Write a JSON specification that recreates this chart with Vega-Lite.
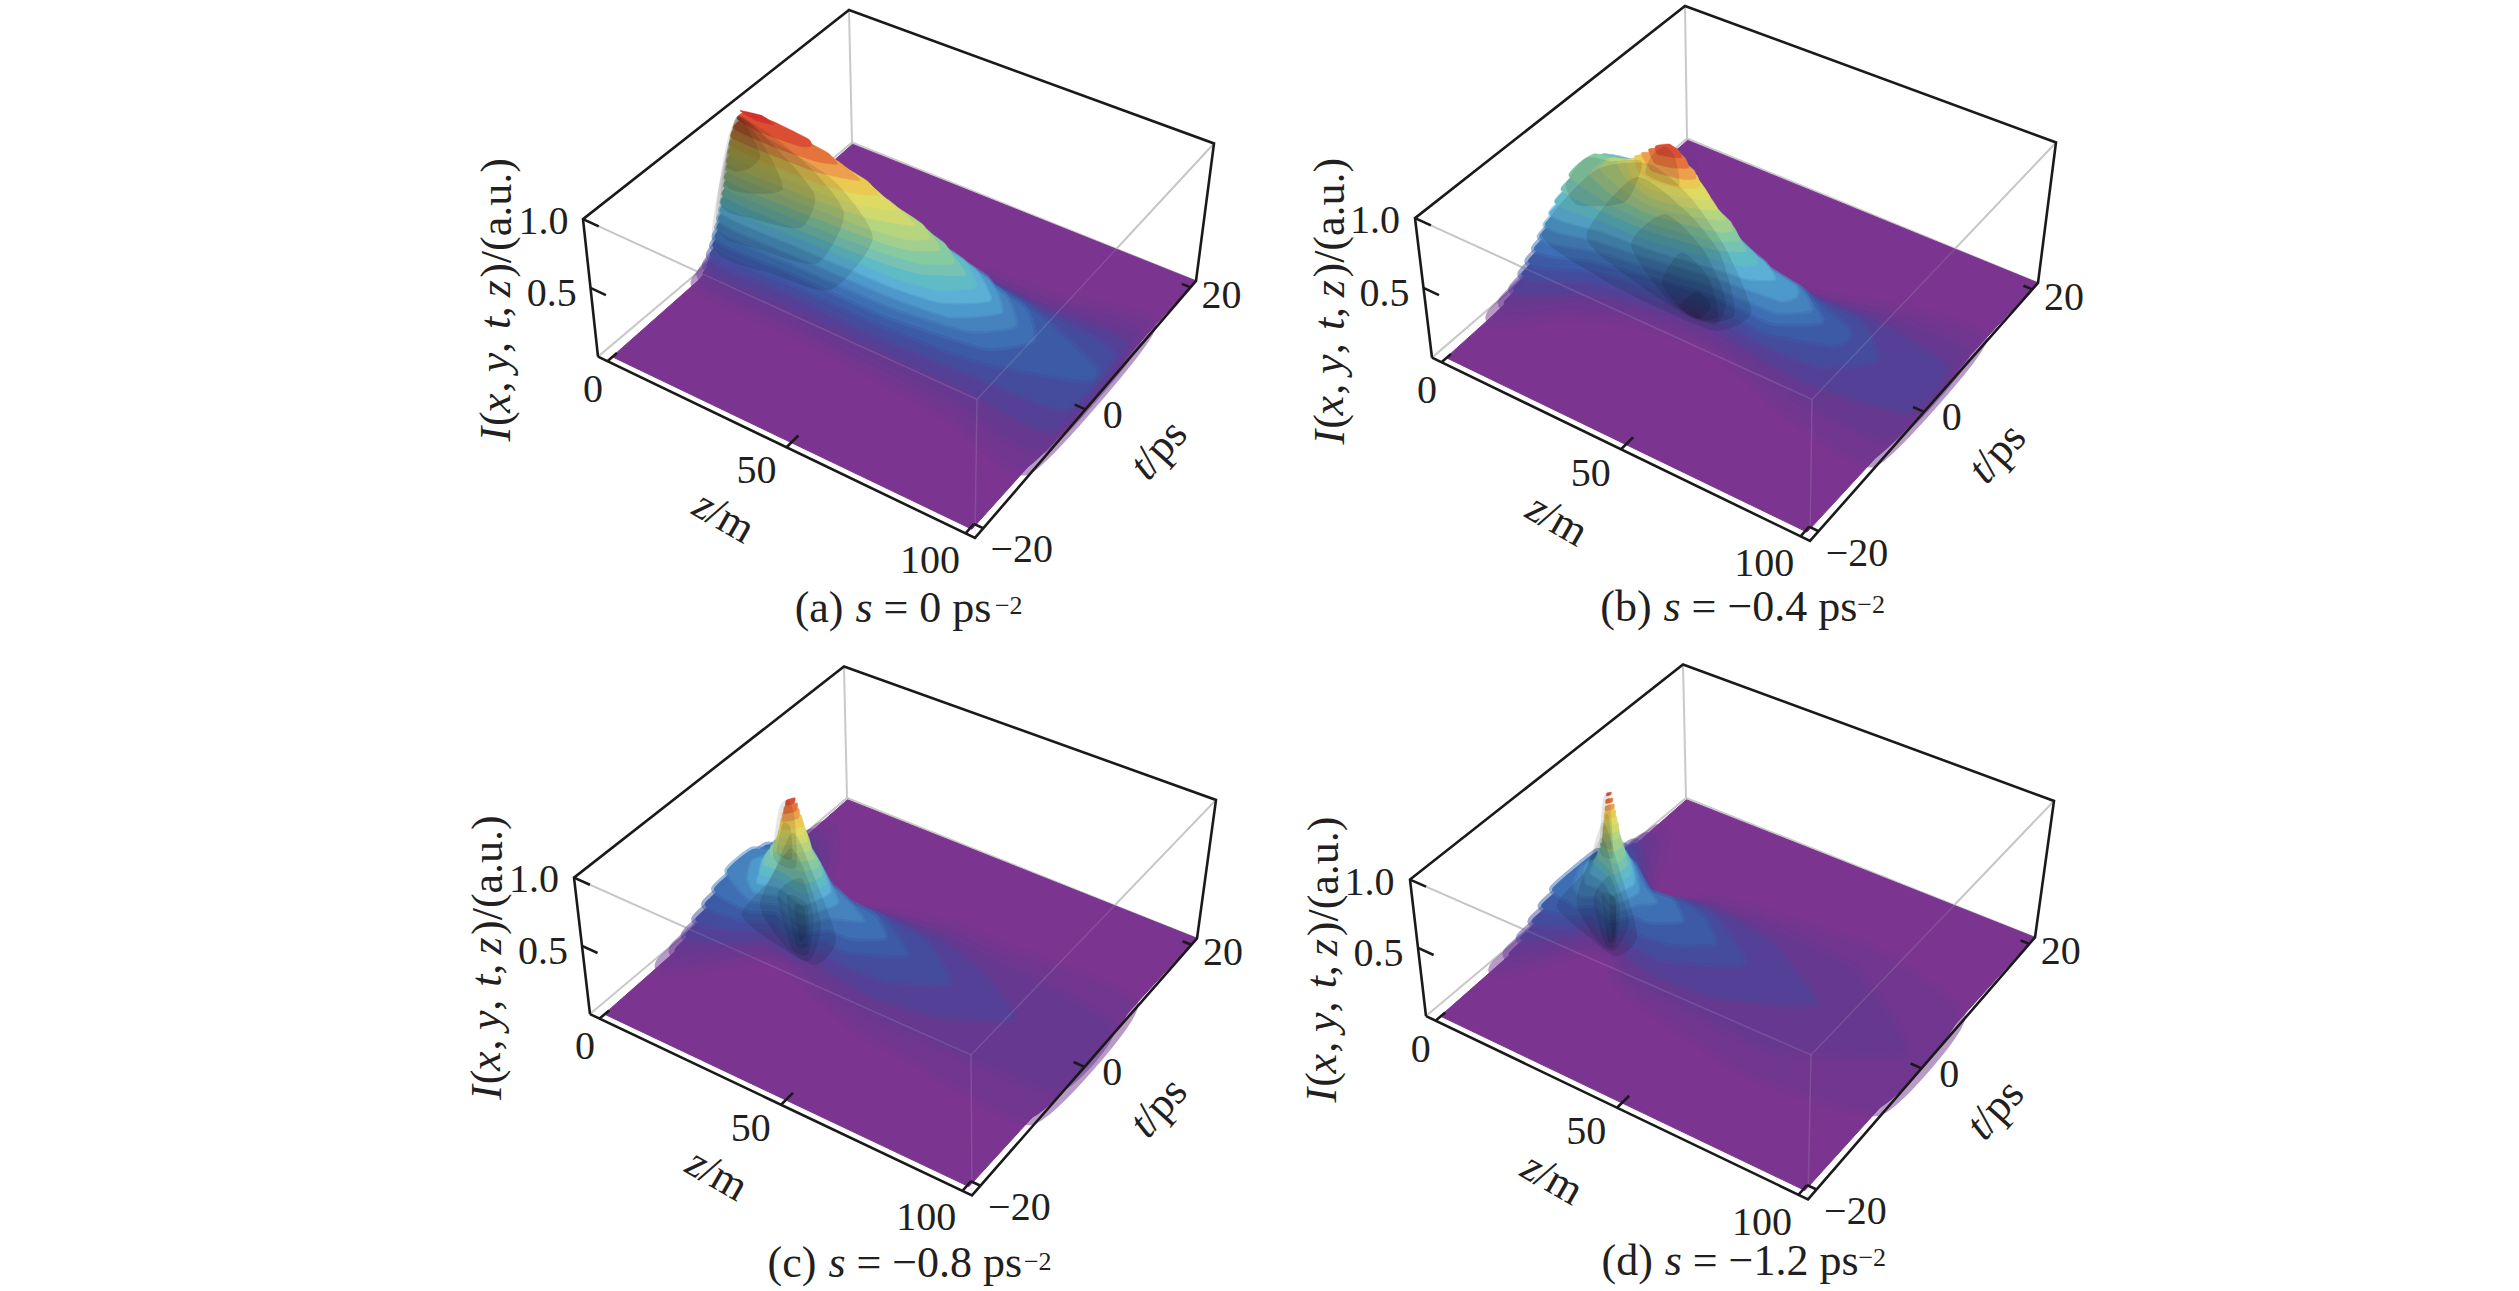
{"$schema":"https://vega.github.io/schema/vega-lite/v6.json","width":2519,"height":1291,"autosize":{"type":"fit","contains":"padding"},"padding":0,"background":"white","config":{"view":{"stroke":null}},
"params":[{"name":"box","value":{"a":[598,353,975,535,1196,277,852,138,583,215,977,396,1214,139,849,5],"b":[1432,354,1810,538,2038,279,1687,134,1415,214,1812,396,2056,138,1685,1],"c":[590,1013,972,1195,1197,937,847,796,574,876,971,1054,1216,798,844,664],"d":[1426,1015,1808,1199,2035,936,1686,796,1410,878,1811,1054,2054,799,1683,662]}}],
"data":{"values":[
{"p":"abcd","k":"g","c":1,"z":0,"t":20,"i":1},{"p":"abcd","k":"g","c":1,"z":0,"t":20,"i":0},
{"p":"abcd","k":"g","c":2,"z":0,"t":-20,"i":1},{"p":"abcd","k":"g","c":2,"z":100,"t":-20,"i":1},{"p":"abcd","k":"g","c":2,"z":100,"t":20,"i":1},
{"p":"abcd","k":"g","c":3,"z":0,"t":-20,"i":0},{"p":"abcd","k":"g","c":3,"z":0,"t":20,"i":0},{"p":"abcd","k":"g","c":3,"z":100,"t":20,"i":0},
{"p":"abcd","k":"f","z":2.4,"t":-19.2},{"p":"abcd","k":"f","z":0.5,"t":19.8},{"p":"abcd","k":"f","z":99.8,"t":20},{"p":"abcd","k":"f","z":98,"t":-19.2},
{"p":"a","z":3,"t":-6,"i":0.03},{"p":"a","z":25,"t":-6.4,"i":0.03},{"p":"a","z":50,"t":-7,"i":0.03},{"p":"a","z":75,"t":-8.1,"i":0.03},{"p":"a","z":99,"t":-10,"i":0.03},{"p":"a","z":99,"t":12,"i":0.03},{"p":"a","z":75,"t":10.6,"i":0.03},{"p":"a","z":50,"t":10,"i":0.03},{"p":"a","z":25,"t":10,"i":0.03},{"p":"a","z":3,"t":10,"i":0.03},
{"p":"a","z":3,"t":-5.2,"i":0.06},{"p":"a","z":25,"t":-5.5,"i":0.06},{"p":"a","z":50,"t":-6,"i":0.06},{"p":"a","z":75,"t":-6.6,"i":0.06},{"p":"a","z":99,"t":-7.8,"i":0.06},{"p":"a","z":99,"t":9.8,"i":0.06},{"p":"a","z":75,"t":9.1,"i":0.06},{"p":"a","z":50,"t":9,"i":0.06},{"p":"a","z":25,"t":9,"i":0.06},{"p":"a","z":3,"t":9.2,"i":0.06},
{"p":"a","z":3,"t":-4.5,"i":0.1},{"p":"a","z":25,"t":-4.8,"i":0.1},{"p":"a","z":50,"t":-5.2,"i":0.1},{"p":"a","z":75,"t":-5.3,"i":0.1},{"p":"a","z":99,"t":-5.7,"i":0.1},{"p":"a","z":99,"t":7.7,"i":0.1},{"p":"a","z":75,"t":7.8,"i":0.1},{"p":"a","z":50,"t":8.2,"i":0.1},{"p":"a","z":25,"t":8.3,"i":0.1},{"p":"a","z":3,"t":8.5,"i":0.1},
{"p":"a","z":3,"t":-3.9,"i":0.15},{"p":"a","z":25,"t":-4.1,"i":0.15},{"p":"a","z":50,"t":-4.5,"i":0.15},{"p":"a","z":75,"t":-4.1,"i":0.15},{"p":"a","z":99,"t":-3.3,"i":0.15},{"p":"a","z":99,"t":5.3,"i":0.15},{"p":"a","z":75,"t":6.6,"i":0.15},{"p":"a","z":50,"t":7.5,"i":0.15},{"p":"a","z":25,"t":7.7,"i":0.15},{"p":"a","z":3,"t":7.9,"i":0.15},
{"p":"a","z":3,"t":-3.4,"i":0.2},{"p":"a","z":25,"t":-3.7,"i":0.2},{"p":"a","z":50,"t":-3.9,"i":0.2},{"p":"a","z":75,"t":-3.1,"i":0.2},{"p":"a","z":99,"t":0,"i":0.2},{"p":"a","z":99,"t":2,"i":0.2},{"p":"a","z":75,"t":5.6,"i":0.2},{"p":"a","z":50,"t":6.9,"i":0.2},{"p":"a","z":25,"t":7.2,"i":0.2},{"p":"a","z":3,"t":7.4,"i":0.2},
{"p":"a","z":3,"t":-3,"i":0.25},{"p":"a","z":25,"t":-3.2,"i":0.25},{"p":"a","z":50,"t":-3.4,"i":0.25},{"p":"a","z":75,"t":-2,"i":0.25},{"p":"a","z":83,"t":1.2,"i":0.25},{"p":"a","z":75,"t":4.6,"i":0.25},{"p":"a","z":50,"t":6.4,"i":0.25},{"p":"a","z":25,"t":6.8,"i":0.25},{"p":"a","z":3,"t":7,"i":0.25},
{"p":"a","z":3,"t":-2.6,"i":0.3},{"p":"a","z":25,"t":-2.9,"i":0.3},{"p":"a","z":50,"t":-2.9,"i":0.3},{"p":"a","z":70,"t":-1.7,"i":0.3},{"p":"a","z":78,"t":1.2,"i":0.3},{"p":"a","z":70,"t":4.3,"i":0.3},{"p":"a","z":50,"t":5.9,"i":0.3},{"p":"a","z":25,"t":6.4,"i":0.3},{"p":"a","z":3,"t":6.6,"i":0.3},
{"p":"a","z":3,"t":-2.3,"i":0.35},{"p":"a","z":25,"t":-2.6,"i":0.35},{"p":"a","z":50,"t":-2.5,"i":0.35},{"p":"a","z":65,"t":-1.8,"i":0.35},{"p":"a","z":74,"t":1.3,"i":0.35},{"p":"a","z":65,"t":4.6,"i":0.35},{"p":"a","z":50,"t":5.5,"i":0.35},{"p":"a","z":25,"t":6.1,"i":0.35},{"p":"a","z":3,"t":6.3,"i":0.35},
{"p":"a","z":3,"t":-2,"i":0.4},{"p":"a","z":25,"t":-2.2,"i":0.4},{"p":"a","z":50,"t":-2.1,"i":0.4},{"p":"a","z":62,"t":-1.4,"i":0.4},{"p":"a","z":71,"t":1.3,"i":0.4},{"p":"a","z":62,"t":4.2,"i":0.4},{"p":"a","z":50,"t":5.1,"i":0.4},{"p":"a","z":25,"t":5.7,"i":0.4},{"p":"a","z":3,"t":6,"i":0.4},
{"p":"a","z":3,"t":-1.8,"i":0.45},{"p":"a","z":25,"t":-1.9,"i":0.45},{"p":"a","z":50,"t":-1.7,"i":0.45},{"p":"a","z":60,"t":-1,"i":0.45},{"p":"a","z":67,"t":1.3,"i":0.45},{"p":"a","z":60,"t":3.8,"i":0.45},{"p":"a","z":50,"t":4.7,"i":0.45},{"p":"a","z":25,"t":5.4,"i":0.45},{"p":"a","z":3,"t":5.8,"i":0.45},
{"p":"a","z":3,"t":-1.5,"i":0.5},{"p":"a","z":25,"t":-1.7,"i":0.5},{"p":"a","z":45,"t":-1.4,"i":0.5},{"p":"a","z":55,"t":-0.8,"i":0.5},{"p":"a","z":64,"t":1.4,"i":0.5},{"p":"a","z":55,"t":3.7,"i":0.5},{"p":"a","z":45,"t":4.5,"i":0.5},{"p":"a","z":25,"t":5.2,"i":0.5},{"p":"a","z":3,"t":5.5,"i":0.5},
{"p":"a","z":3,"t":-1.2,"i":0.55},{"p":"a","z":25,"t":-1.4,"i":0.55},{"p":"a","z":45,"t":-1,"i":0.55},{"p":"a","z":55,"t":-0.3,"i":0.55},{"p":"a","z":61,"t":1.4,"i":0.55},{"p":"a","z":55,"t":3.3,"i":0.55},{"p":"a","z":45,"t":4.2,"i":0.55},{"p":"a","z":25,"t":4.9,"i":0.55},{"p":"a","z":3,"t":5.2,"i":0.55},
{"p":"a","z":3,"t":-1,"i":0.6},{"p":"a","z":25,"t":-1.1,"i":0.6},{"p":"a","z":45,"t":-0.6,"i":0.6},{"p":"a","z":52,"t":0,"i":0.6},{"p":"a","z":57,"t":1.4,"i":0.6},{"p":"a","z":52,"t":3,"i":0.6},{"p":"a","z":45,"t":3.8,"i":0.6},{"p":"a","z":25,"t":4.7,"i":0.6},{"p":"a","z":3,"t":5,"i":0.6},
{"p":"a","z":3,"t":-0.7,"i":0.65},{"p":"a","z":25,"t":-0.8,"i":0.65},{"p":"a","z":40,"t":-0.5,"i":0.65},{"p":"a","z":50,"t":0.2,"i":0.65},{"p":"a","z":54,"t":1.4,"i":0.65},{"p":"a","z":50,"t":2.8,"i":0.65},{"p":"a","z":40,"t":3.7,"i":0.65},{"p":"a","z":25,"t":4.4,"i":0.65},{"p":"a","z":3,"t":4.7,"i":0.65},
{"p":"a","z":3,"t":-0.5,"i":0.7},{"p":"a","z":25,"t":-0.5,"i":0.7},{"p":"a","z":40,"t":0,"i":0.7},{"p":"a","z":50,"t":1.5,"i":0.7},{"p":"a","z":40,"t":3.2,"i":0.7},{"p":"a","z":25,"t":4.1,"i":0.7},{"p":"a","z":3,"t":4.5,"i":0.7},
{"p":"a","z":3,"t":-0.2,"i":0.75},{"p":"a","z":25,"t":-0.2,"i":0.75},{"p":"a","z":35,"t":0.1,"i":0.75},{"p":"a","z":45,"t":1.5,"i":0.75},{"p":"a","z":35,"t":3.3,"i":0.75},{"p":"a","z":25,"t":3.8,"i":0.75},{"p":"a","z":3,"t":4.2,"i":0.75},
{"p":"a","z":3,"t":0.1,"i":0.8},{"p":"a","z":25,"t":0,"i":0.8},{"p":"a","z":35,"t":0.6,"i":0.8},{"p":"a","z":40,"t":1.6,"i":0.8},{"p":"a","z":35,"t":2.8,"i":0.8},{"p":"a","z":25,"t":3.5,"i":0.8},{"p":"a","z":3,"t":3.9,"i":0.8},
{"p":"a","z":3,"t":0.4,"i":0.85},{"p":"a","z":25,"t":0.5,"i":0.85},{"p":"a","z":35,"t":1.7,"i":0.85},{"p":"a","z":25,"t":3.1,"i":0.85},{"p":"a","z":3,"t":3.6,"i":0.85},
{"p":"a","z":3,"t":0.8,"i":0.9},{"p":"a","z":15,"t":0.6,"i":0.9},{"p":"a","z":25,"t":1,"i":0.9},{"p":"a","z":29,"t":1.7,"i":0.9},{"p":"a","z":25,"t":2.6,"i":0.9},{"p":"a","z":15,"t":3.1,"i":0.9},{"p":"a","z":3,"t":3.2,"i":0.9},
{"p":"a","z":3,"t":1.4,"i":0.95},{"p":"a","z":10,"t":0.9,"i":0.95},{"p":"a","z":20,"t":1.2,"i":0.95},{"p":"a","z":22,"t":1.8,"i":0.95},{"p":"a","z":20,"t":2.5,"i":0.95},{"p":"a","z":10,"t":2.9,"i":0.95},{"p":"a","z":3,"t":2.6,"i":0.95},
{"p":"a","z":3,"t":1.9,"i":0.99},{"p":"a","z":8,"t":1.5,"i":0.99},{"p":"a","z":12,"t":1.9,"i":0.99},{"p":"a","z":8,"t":2.4,"i":0.99},
{"p":"b","z":3,"t":-12.1,"i":0.03},{"p":"b","z":16,"t":-7.7,"i":0.03},{"p":"b","z":26,"t":-5.5,"i":0.03},{"p":"b","z":33,"t":-4.7,"i":0.03},{"p":"b","z":43,"t":-3.9,"i":0.03},{"p":"b","z":52,"t":-4.4,"i":0.03},{"p":"b","z":61,"t":-5.4,"i":0.03},{"p":"b","z":75,"t":-7.4,"i":0.03},{"p":"b","z":99,"t":-8.4,"i":0.03},{"p":"b","z":99,"t":10.4,"i":0.03},{"p":"b","z":75,"t":9.4,"i":0.03},{"p":"b","z":61,"t":7.4,"i":0.03},{"p":"b","z":52,"t":6.8,"i":0.03},{"p":"b","z":43,"t":6.9,"i":0.03},{"p":"b","z":33,"t":8.3,"i":0.03},{"p":"b","z":26,"t":9.5,"i":0.03},{"p":"b","z":16,"t":12.1,"i":0.03},{"p":"b","z":3,"t":17,"i":0.03},
{"p":"b","z":3,"t":-10.3,"i":0.06},{"p":"b","z":16,"t":-6.5,"i":0.06},{"p":"b","z":26,"t":-4.7,"i":0.06},{"p":"b","z":33,"t":-4,"i":0.06},{"p":"b","z":43,"t":-3.3,"i":0.06},{"p":"b","z":52,"t":-3.7,"i":0.06},{"p":"b","z":61,"t":-4.4,"i":0.06},{"p":"b","z":75,"t":-5.7,"i":0.06},{"p":"b","z":99,"t":-5.6,"i":0.06},{"p":"b","z":99,"t":7.6,"i":0.06},{"p":"b","z":75,"t":7.7,"i":0.06},{"p":"b","z":61,"t":6.4,"i":0.06},{"p":"b","z":52,"t":6.1,"i":0.06},{"p":"b","z":43,"t":6.3,"i":0.06},{"p":"b","z":33,"t":7.6,"i":0.06},{"p":"b","z":26,"t":8.7,"i":0.06},{"p":"b","z":16,"t":10.9,"i":0.06},{"p":"b","z":3,"t":15.3,"i":0.06},
{"p":"b","z":3,"t":-8.8,"i":0.1},{"p":"b","z":16,"t":-5.6,"i":0.1},{"p":"b","z":26,"t":-4.1,"i":0.1},{"p":"b","z":33,"t":-3.4,"i":0.1},{"p":"b","z":43,"t":-2.7,"i":0.1},{"p":"b","z":52,"t":-3,"i":0.1},{"p":"b","z":61,"t":-3.6,"i":0.1},{"p":"b","z":75,"t":-4.2,"i":0.1},{"p":"b","z":99,"t":-2.4,"i":0.1},{"p":"b","z":99,"t":4.4,"i":0.1},{"p":"b","z":75,"t":6.2,"i":0.1},{"p":"b","z":61,"t":5.6,"i":0.1},{"p":"b","z":52,"t":5.4,"i":0.1},{"p":"b","z":43,"t":5.7,"i":0.1},{"p":"b","z":33,"t":7,"i":0.1},{"p":"b","z":26,"t":8.1,"i":0.1},{"p":"b","z":16,"t":10,"i":0.1},{"p":"b","z":3,"t":13.8,"i":0.1},
{"p":"b","z":3,"t":-7.4,"i":0.15},{"p":"b","z":16,"t":-4.8,"i":0.15},{"p":"b","z":26,"t":-3.5,"i":0.15},{"p":"b","z":33,"t":-2.9,"i":0.15},{"p":"b","z":43,"t":-2.3,"i":0.15},{"p":"b","z":52,"t":-2.4,"i":0.15},{"p":"b","z":61,"t":-2.8,"i":0.15},{"p":"b","z":75,"t":-2.5,"i":0.15},{"p":"b","z":85,"t":1,"i":0.15},{"p":"b","z":75,"t":4.5,"i":0.15},{"p":"b","z":61,"t":4.8,"i":0.15},{"p":"b","z":52,"t":4.8,"i":0.15},{"p":"b","z":43,"t":5.3,"i":0.15},{"p":"b","z":33,"t":6.5,"i":0.15},{"p":"b","z":26,"t":7.5,"i":0.15},{"p":"b","z":16,"t":9.2,"i":0.15},{"p":"b","z":3,"t":12.4,"i":0.15},
{"p":"b","z":3,"t":-6.3,"i":0.2},{"p":"b","z":16,"t":-4.1,"i":0.2},{"p":"b","z":26,"t":-3.1,"i":0.2},{"p":"b","z":33,"t":-2.5,"i":0.2},{"p":"b","z":43,"t":-1.9,"i":0.2},{"p":"b","z":52,"t":-1.9,"i":0.2},{"p":"b","z":61,"t":-2.2,"i":0.2},{"p":"b","z":75,"t":-0.3,"i":0.2},{"p":"b","z":77,"t":1,"i":0.2},{"p":"b","z":75,"t":2.3,"i":0.2},{"p":"b","z":61,"t":4.2,"i":0.2},{"p":"b","z":52,"t":4.3,"i":0.2},{"p":"b","z":43,"t":4.9,"i":0.2},{"p":"b","z":33,"t":6.1,"i":0.2},{"p":"b","z":26,"t":7.1,"i":0.2},{"p":"b","z":16,"t":8.5,"i":0.2},{"p":"b","z":3,"t":11.3,"i":0.2},
{"p":"b","z":3,"t":-5.3,"i":0.25},{"p":"b","z":16,"t":-3.6,"i":0.25},{"p":"b","z":26,"t":-2.7,"i":0.25},{"p":"b","z":33,"t":-2.2,"i":0.25},{"p":"b","z":43,"t":-1.5,"i":0.25},{"p":"b","z":52,"t":-1.5,"i":0.25},{"p":"b","z":61,"t":-1.6,"i":0.25},{"p":"b","z":70,"t":1,"i":0.25},{"p":"b","z":61,"t":3.6,"i":0.25},{"p":"b","z":52,"t":3.9,"i":0.25},{"p":"b","z":43,"t":4.5,"i":0.25},{"p":"b","z":33,"t":5.8,"i":0.25},{"p":"b","z":26,"t":6.7,"i":0.25},{"p":"b","z":16,"t":8,"i":0.25},{"p":"b","z":3,"t":10.3,"i":0.25},
{"p":"b","z":3,"t":-4.4,"i":0.3},{"p":"b","z":16,"t":-3.1,"i":0.3},{"p":"b","z":26,"t":-2.4,"i":0.3},{"p":"b","z":33,"t":-1.9,"i":0.3},{"p":"b","z":43,"t":-1.2,"i":0.3},{"p":"b","z":52,"t":-1.1,"i":0.3},{"p":"b","z":61,"t":-1,"i":0.3},{"p":"b","z":67,"t":1,"i":0.3},{"p":"b","z":61,"t":3,"i":0.3},{"p":"b","z":52,"t":3.5,"i":0.3},{"p":"b","z":43,"t":4.2,"i":0.3},{"p":"b","z":33,"t":5.5,"i":0.3},{"p":"b","z":26,"t":6.4,"i":0.3},{"p":"b","z":16,"t":7.5,"i":0.3},{"p":"b","z":3,"t":9.4,"i":0.3},
{"p":"b","z":3,"t":-3.5,"i":0.35},{"p":"b","z":16,"t":-2.6,"i":0.35},{"p":"b","z":26,"t":-2.1,"i":0.35},{"p":"b","z":33,"t":-1.6,"i":0.35},{"p":"b","z":43,"t":-0.9,"i":0.35},{"p":"b","z":52,"t":-0.6,"i":0.35},{"p":"b","z":61,"t":-0.2,"i":0.35},{"p":"b","z":63,"t":1,"i":0.35},{"p":"b","z":61,"t":2.2,"i":0.35},{"p":"b","z":52,"t":3,"i":0.35},{"p":"b","z":43,"t":3.9,"i":0.35},{"p":"b","z":33,"t":5.2,"i":0.35},{"p":"b","z":26,"t":6.1,"i":0.35},{"p":"b","z":16,"t":7,"i":0.35},{"p":"b","z":3,"t":8.5,"i":0.35},
{"p":"b","z":3,"t":-2.7,"i":0.4},{"p":"b","z":16,"t":-2.1,"i":0.4},{"p":"b","z":26,"t":-1.8,"i":0.4},{"p":"b","z":33,"t":-1.4,"i":0.4},{"p":"b","z":43,"t":-0.7,"i":0.4},{"p":"b","z":52,"t":-0.2,"i":0.4},{"p":"b","z":57,"t":1.1,"i":0.4},{"p":"b","z":52,"t":2.6,"i":0.4},{"p":"b","z":43,"t":3.7,"i":0.4},{"p":"b","z":33,"t":5,"i":0.4},{"p":"b","z":26,"t":5.8,"i":0.4},{"p":"b","z":16,"t":6.5,"i":0.4},{"p":"b","z":3,"t":7.7,"i":0.4},
{"p":"b","z":3,"t":-1.8,"i":0.45},{"p":"b","z":16,"t":-1.7,"i":0.45},{"p":"b","z":26,"t":-1.6,"i":0.45},{"p":"b","z":33,"t":-1.1,"i":0.45},{"p":"b","z":43,"t":-0.4,"i":0.45},{"p":"b","z":50,"t":0.2,"i":0.45},{"p":"b","z":52,"t":1.2,"i":0.45},{"p":"b","z":50,"t":2.2,"i":0.45},{"p":"b","z":43,"t":3.4,"i":0.45},{"p":"b","z":33,"t":4.7,"i":0.45},{"p":"b","z":26,"t":5.6,"i":0.45},{"p":"b","z":16,"t":6.1,"i":0.45},{"p":"b","z":3,"t":6.8,"i":0.45},
{"p":"b","z":3,"t":-0.8,"i":0.5},{"p":"b","z":16,"t":-1.3,"i":0.5},{"p":"b","z":26,"t":-1.3,"i":0.5},{"p":"b","z":33,"t":-0.9,"i":0.5},{"p":"b","z":43,"t":-0.1,"i":0.5},{"p":"b","z":49,"t":1.3,"i":0.5},{"p":"b","z":43,"t":3.1,"i":0.5},{"p":"b","z":33,"t":4.5,"i":0.5},{"p":"b","z":26,"t":5.3,"i":0.5},{"p":"b","z":16,"t":5.7,"i":0.5},{"p":"b","z":3,"t":5.8,"i":0.5},
{"p":"b","z":3,"t":0.5,"i":0.55},{"p":"b","z":16,"t":-0.9,"i":0.55},{"p":"b","z":26,"t":-1.1,"i":0.55},{"p":"b","z":33,"t":-0.7,"i":0.55},{"p":"b","z":43,"t":0.2,"i":0.55},{"p":"b","z":47,"t":1.4,"i":0.55},{"p":"b","z":43,"t":2.8,"i":0.55},{"p":"b","z":33,"t":4.3,"i":0.55},{"p":"b","z":26,"t":5.1,"i":0.55},{"p":"b","z":16,"t":5.3,"i":0.55},{"p":"b","z":3,"t":4.5,"i":0.55},
{"p":"b","z":8,"t":0.9,"i":0.6},{"p":"b","z":16,"t":-0.4,"i":0.6},{"p":"b","z":26,"t":-0.8,"i":0.6},{"p":"b","z":33,"t":-0.4,"i":0.6},{"p":"b","z":43,"t":0.6,"i":0.6},{"p":"b","z":45,"t":1.4,"i":0.6},{"p":"b","z":43,"t":2.4,"i":0.6},{"p":"b","z":33,"t":4,"i":0.6},{"p":"b","z":26,"t":4.8,"i":0.6},{"p":"b","z":16,"t":4.8,"i":0.6},{"p":"b","z":8,"t":3.9,"i":0.6},
{"p":"b","z":10,"t":1.3,"i":0.65},{"p":"b","z":16,"t":0.2,"i":0.65},{"p":"b","z":26,"t":-0.6,"i":0.65},{"p":"b","z":33,"t":-0.2,"i":0.65},{"p":"b","z":43,"t":1.5,"i":0.65},{"p":"b","z":33,"t":3.8,"i":0.65},{"p":"b","z":26,"t":4.6,"i":0.65},{"p":"b","z":16,"t":4.2,"i":0.65},{"p":"b","z":10,"t":3.3,"i":0.65},
{"p":"b","z":13,"t":2.3,"i":0.7},{"p":"b","z":18,"t":0.7,"i":0.7},{"p":"b","z":26,"t":-0.4,"i":0.7},{"p":"b","z":33,"t":0,"i":0.7},{"p":"b","z":41,"t":1.5,"i":0.7},{"p":"b","z":33,"t":3.6,"i":0.7},{"p":"b","z":26,"t":4.4,"i":0.7},{"p":"b","z":18,"t":3.7,"i":0.7},
{"p":"b","z":16,"t":2.2,"i":0.75},{"p":"b","z":20,"t":0.4,"i":0.75},{"p":"b","z":26,"t":-0.2,"i":0.75},{"p":"b","z":33,"t":0.3,"i":0.75},{"p":"b","z":39,"t":1.6,"i":0.75},{"p":"b","z":33,"t":3.3,"i":0.75},{"p":"b","z":26,"t":4.2,"i":0.75},{"p":"b","z":20,"t":3.8,"i":0.75},
{"p":"b","z":18,"t":2.2,"i":0.8},{"p":"b","z":22,"t":0.5,"i":0.8},{"p":"b","z":26,"t":0.1,"i":0.8},{"p":"b","z":33,"t":0.6,"i":0.8},{"p":"b","z":36,"t":1.7,"i":0.8},{"p":"b","z":33,"t":3,"i":0.8},{"p":"b","z":26,"t":3.9,"i":0.8},{"p":"b","z":22,"t":3.7,"i":0.8},
{"p":"b","z":20,"t":2.1,"i":0.85},{"p":"b","z":24,"t":0.8,"i":0.85},{"p":"b","z":26,"t":0.4,"i":0.85},{"p":"b","z":33,"t":1,"i":0.85},{"p":"b","z":35,"t":1.7,"i":0.85},{"p":"b","z":33,"t":2.6,"i":0.85},{"p":"b","z":26,"t":3.6,"i":0.85},{"p":"b","z":24,"t":3.2,"i":0.85},
{"p":"b","z":22,"t":2.1,"i":0.9},{"p":"b","z":26,"t":0.7,"i":0.9},{"p":"b","z":30,"t":1,"i":0.9},{"p":"b","z":33,"t":1.8,"i":0.9},{"p":"b","z":30,"t":2.9,"i":0.9},{"p":"b","z":26,"t":3.3,"i":0.9},
{"p":"b","z":24,"t":2,"i":0.95},{"p":"b","z":26,"t":1.1,"i":0.95},{"p":"b","z":29,"t":1.4,"i":0.95},{"p":"b","z":31,"t":1.9,"i":0.95},{"p":"b","z":29,"t":2.6,"i":0.95},{"p":"b","z":26,"t":2.9,"i":0.95},
{"p":"c","z":3,"t":-10.3,"i":0.03},{"p":"c","z":10,"t":-8.8,"i":0.03},{"p":"c","z":14,"t":-6.4,"i":0.03},{"p":"c","z":19,"t":-4.4,"i":0.03},{"p":"c","z":24,"t":-4,"i":0.03},{"p":"c","z":30,"t":-4.5,"i":0.03},{"p":"c","z":38,"t":-5.8,"i":0.03},{"p":"c","z":50,"t":-7.5,"i":0.03},{"p":"c","z":65,"t":-8,"i":0.03},{"p":"c","z":99,"t":-8.9,"i":0.03},{"p":"c","z":99,"t":8.9,"i":0.03},{"p":"c","z":65,"t":9,"i":0.03},{"p":"c","z":50,"t":9.1,"i":0.03},{"p":"c","z":38,"t":7.8,"i":0.03},{"p":"c","z":30,"t":6.7,"i":0.03},{"p":"c","z":24,"t":6.4,"i":0.03},{"p":"c","z":19,"t":6.8,"i":0.03},{"p":"c","z":14,"t":9.2,"i":0.03},{"p":"c","z":10,"t":12.2,"i":0.03},{"p":"c","z":3,"t":14.3,"i":0.03},
{"p":"c","z":3,"t":-8.3,"i":0.06},{"p":"c","z":10,"t":-7.3,"i":0.06},{"p":"c","z":14,"t":-5.4,"i":0.06},{"p":"c","z":19,"t":-3.8,"i":0.06},{"p":"c","z":24,"t":-3.4,"i":0.06},{"p":"c","z":30,"t":-3.7,"i":0.06},{"p":"c","z":38,"t":-4.7,"i":0.06},{"p":"c","z":50,"t":-5.8,"i":0.06},{"p":"c","z":65,"t":-5.7,"i":0.06},{"p":"c","z":99,"t":-4.9,"i":0.06},{"p":"c","z":99,"t":4.9,"i":0.06},{"p":"c","z":65,"t":6.7,"i":0.06},{"p":"c","z":50,"t":7.4,"i":0.06},{"p":"c","z":38,"t":6.7,"i":0.06},{"p":"c","z":30,"t":5.9,"i":0.06},{"p":"c","z":24,"t":5.8,"i":0.06},{"p":"c","z":19,"t":6.2,"i":0.06},{"p":"c","z":14,"t":8.2,"i":0.06},{"p":"c","z":10,"t":10.7,"i":0.06},{"p":"c","z":3,"t":12.3,"i":0.06},
{"p":"c","z":3,"t":-6.6,"i":0.1},{"p":"c","z":10,"t":-6,"i":0.1},{"p":"c","z":14,"t":-4.6,"i":0.1},{"p":"c","z":19,"t":-3.2,"i":0.1},{"p":"c","z":24,"t":-3.4,"i":0.1},{"p":"c","z":28,"t":-3.6,"i":0.1},{"p":"c","z":32,"t":-3,"i":0.1},{"p":"c","z":38,"t":-3.7,"i":0.1},{"p":"c","z":50,"t":-4.2,"i":0.1},{"p":"c","z":65,"t":-3.1,"i":0.1},{"p":"c","z":80,"t":0.3,"i":0.1},{"p":"c","z":65,"t":4.1,"i":0.1},{"p":"c","z":50,"t":5.8,"i":0.1},{"p":"c","z":38,"t":5.7,"i":0.1},{"p":"c","z":30,"t":5.2,"i":0.1},{"p":"c","z":24,"t":5.2,"i":0.1},{"p":"c","z":19,"t":5.8,"i":0.1},{"p":"c","z":14,"t":7.4,"i":0.1},{"p":"c","z":10,"t":9.4,"i":0.1},{"p":"c","z":3,"t":10.6,"i":0.1},
{"p":"c","z":3,"t":-5,"i":0.15},{"p":"c","z":10,"t":-4.7,"i":0.15},{"p":"c","z":14,"t":-3.9,"i":0.15},{"p":"c","z":19,"t":-2.4,"i":0.15},{"p":"c","z":24,"t":-3,"i":0.15},{"p":"c","z":28,"t":-3.3,"i":0.15},{"p":"c","z":32,"t":-2.2,"i":0.15},{"p":"c","z":38,"t":-2.7,"i":0.15},{"p":"c","z":50,"t":-2.4,"i":0.15},{"p":"c","z":62,"t":0.5,"i":0.15},{"p":"c","z":50,"t":4,"i":0.15},{"p":"c","z":38,"t":4.7,"i":0.15},{"p":"c","z":30,"t":4.5,"i":0.15},{"p":"c","z":24,"t":4.8,"i":0.15},{"p":"c","z":19,"t":5.3,"i":0.15},{"p":"c","z":14,"t":6.7,"i":0.15},{"p":"c","z":10,"t":8.1,"i":0.15},{"p":"c","z":3,"t":9,"i":0.15},
{"p":"c","z":3,"t":-3.5,"i":0.2},{"p":"c","z":10,"t":-3.7,"i":0.2},{"p":"c","z":14,"t":-3.3,"i":0.2},{"p":"c","z":19,"t":-2,"i":0.2},{"p":"c","z":24,"t":-2.7,"i":0.2},{"p":"c","z":28,"t":-3,"i":0.2},{"p":"c","z":32,"t":-1.5,"i":0.2},{"p":"c","z":38,"t":-1.9,"i":0.2},{"p":"c","z":50,"t":0.8,"i":0.2},{"p":"c","z":38,"t":3.9,"i":0.2},{"p":"c","z":30,"t":3.9,"i":0.2},{"p":"c","z":24,"t":4.4,"i":0.2},{"p":"c","z":19,"t":5,"i":0.2},{"p":"c","z":14,"t":6.1,"i":0.2},{"p":"c","z":10,"t":7.1,"i":0.2},{"p":"c","z":3,"t":7.5,"i":0.2},
{"p":"c","z":3,"t":-2,"i":0.25},{"p":"c","z":10,"t":-2.8,"i":0.25},{"p":"c","z":14,"t":-2.8,"i":0.25},{"p":"c","z":19,"t":-1.7,"i":0.25},{"p":"c","z":24,"t":-2.5,"i":0.25},{"p":"c","z":28,"t":-2.7,"i":0.25},{"p":"c","z":32,"t":-1,"i":0.25},{"p":"c","z":38,"t":-0.9,"i":0.25},{"p":"c","z":44,"t":0.9,"i":0.25},{"p":"c","z":38,"t":2.9,"i":0.25},{"p":"c","z":30,"t":3.4,"i":0.25},{"p":"c","z":24,"t":4.1,"i":0.25},{"p":"c","z":19,"t":4.7,"i":0.25},{"p":"c","z":14,"t":5.6,"i":0.25},{"p":"c","z":10,"t":6.2,"i":0.25},{"p":"c","z":3,"t":6,"i":0.25},
{"p":"c","z":3,"t":0,"i":0.3},{"p":"c","z":10,"t":-1.8,"i":0.3},{"p":"c","z":14,"t":-2.3,"i":0.3},{"p":"c","z":19,"t":-1.4,"i":0.3},{"p":"c","z":24,"t":-2.2,"i":0.3},{"p":"c","z":28,"t":-2.4,"i":0.3},{"p":"c","z":31,"t":-0.4,"i":0.3},{"p":"c","z":38,"t":1,"i":0.3},{"p":"c","z":30,"t":2.8,"i":0.3},{"p":"c","z":24,"t":3.8,"i":0.3},{"p":"c","z":19,"t":4.5,"i":0.3},{"p":"c","z":14,"t":5.1,"i":0.3},{"p":"c","z":10,"t":5.2,"i":0.3},{"p":"c","z":3,"t":4,"i":0.3},
{"p":"c","z":7,"t":1.8,"i":0.35},{"p":"c","z":10,"t":-0.7,"i":0.35},{"p":"c","z":14,"t":-1.9,"i":0.35},{"p":"c","z":19,"t":-1.1,"i":0.35},{"p":"c","z":24,"t":-1.9,"i":0.35},{"p":"c","z":27.5,"t":-2,"i":0.35},{"p":"c","z":30,"t":-0.2,"i":0.35},{"p":"c","z":31,"t":1.1,"i":0.35},{"p":"c","z":24,"t":3.5,"i":0.35},{"p":"c","z":19,"t":4.3,"i":0.35},{"p":"c","z":14,"t":4.7,"i":0.35},{"p":"c","z":10,"t":4.1,"i":0.35},
{"p":"c","z":10,"t":1.6,"i":0.4},{"p":"c","z":12,"t":0.1,"i":0.4},{"p":"c","z":14,"t":-1.5,"i":0.4},{"p":"c","z":19,"t":-0.9,"i":0.4},{"p":"c","z":24,"t":-1.6,"i":0.4},{"p":"c","z":27,"t":-1.6,"i":0.4},{"p":"c","z":29,"t":1.1,"i":0.4},{"p":"c","z":24,"t":3.2,"i":0.4},{"p":"c","z":19,"t":4.1,"i":0.4},{"p":"c","z":14,"t":4.3,"i":0.4},{"p":"c","z":12,"t":3.1,"i":0.4},
{"p":"c","z":11,"t":1.6,"i":0.45},{"p":"c","z":14,"t":-1,"i":0.45},{"p":"c","z":19,"t":-0.7,"i":0.45},{"p":"c","z":24,"t":-1.2,"i":0.45},{"p":"c","z":26.5,"t":-1.1,"i":0.45},{"p":"c","z":28,"t":1.1,"i":0.45},{"p":"c","z":24,"t":2.9,"i":0.45},{"p":"c","z":19,"t":3.9,"i":0.45},{"p":"c","z":14,"t":3.8,"i":0.45},
{"p":"c","z":12,"t":1.5,"i":0.5},{"p":"c","z":14,"t":-0.5,"i":0.5},{"p":"c","z":19,"t":-0.5,"i":0.5},{"p":"c","z":24,"t":-0.9,"i":0.5},{"p":"c","z":26,"t":-0.6,"i":0.5},{"p":"c","z":27,"t":1.1,"i":0.5},{"p":"c","z":24,"t":2.6,"i":0.5},{"p":"c","z":19,"t":3.7,"i":0.5},{"p":"c","z":14,"t":3.3,"i":0.5},
{"p":"c","z":13,"t":1.4,"i":0.55},{"p":"c","z":15,"t":0.1,"i":0.55},{"p":"c","z":19,"t":-0.3,"i":0.55},{"p":"c","z":24,"t":-0.3,"i":0.55},{"p":"c","z":26,"t":1.1,"i":0.55},{"p":"c","z":24,"t":2.2,"i":0.55},{"p":"c","z":19,"t":3.5,"i":0.55},{"p":"c","z":15,"t":2.7,"i":0.55},
{"p":"c","z":14,"t":1.4,"i":0.6},{"p":"c","z":16,"t":0.1,"i":0.6},{"p":"c","z":19,"t":-0.1,"i":0.6},{"p":"c","z":23,"t":0.1,"i":0.6},{"p":"c","z":25,"t":1.1,"i":0.6},{"p":"c","z":23,"t":1.9,"i":0.6},{"p":"c","z":19,"t":3.3,"i":0.6},{"p":"c","z":16,"t":2.8,"i":0.6},
{"p":"c","z":15,"t":1.3,"i":0.65},{"p":"c","z":19,"t":-0.8,"i":0.65},{"p":"c","z":23,"t":0.5,"i":0.65},{"p":"c","z":24,"t":1.2,"i":0.65},{"p":"c","z":23,"t":1.8,"i":0.65},{"p":"c","z":19,"t":3.2,"i":0.65},
{"p":"c","z":15.5,"t":1.3,"i":0.7},{"p":"c","z":19,"t":-0.6,"i":0.7},{"p":"c","z":23,"t":1.2,"i":0.7},{"p":"c","z":19,"t":3,"i":0.7},
{"p":"c","z":16,"t":1.3,"i":0.75},{"p":"c","z":19,"t":-0.4,"i":0.75},{"p":"c","z":22.5,"t":1.2,"i":0.75},{"p":"c","z":19,"t":2.8,"i":0.75},
{"p":"c","z":16.5,"t":1.2,"i":0.8},{"p":"c","z":19,"t":-0.2,"i":0.8},{"p":"c","z":22,"t":1.2,"i":0.8},{"p":"c","z":19,"t":2.6,"i":0.8},
{"p":"c","z":17,"t":1.2,"i":0.85},{"p":"c","z":19,"t":0,"i":0.85},{"p":"c","z":21,"t":1.2,"i":0.85},{"p":"c","z":19,"t":2.4,"i":0.85},
{"p":"c","z":17.5,"t":1.2,"i":0.9},{"p":"c","z":19,"t":0.2,"i":0.9},{"p":"c","z":20.5,"t":1.2,"i":0.9},{"p":"c","z":19,"t":2.2,"i":0.9},
{"p":"c","z":18,"t":1.2,"i":0.95},{"p":"c","z":19,"t":0.5,"i":0.95},{"p":"c","z":20,"t":1.2,"i":0.95},{"p":"c","z":19,"t":1.9,"i":0.95},
{"p":"d","z":3,"t":-10.7,"i":0.03},{"p":"d","z":8,"t":-8.9,"i":0.03},{"p":"d","z":11,"t":-6.4,"i":0.03},{"p":"d","z":14,"t":-4.4,"i":0.03},{"p":"d","z":17,"t":-3.9,"i":0.03},{"p":"d","z":21,"t":-3.6,"i":0.03},{"p":"d","z":27,"t":-5.8,"i":0.03},{"p":"d","z":35,"t":-7,"i":0.03},{"p":"d","z":50,"t":-8.2,"i":0.03},{"p":"d","z":70,"t":-9.5,"i":0.03},{"p":"d","z":99,"t":-7.1,"i":0.03},{"p":"d","z":99,"t":7.1,"i":0.03},{"p":"d","z":70,"t":10.3,"i":0.03},{"p":"d","z":50,"t":9.6,"i":0.03},{"p":"d","z":35,"t":8.8,"i":0.03},{"p":"d","z":27,"t":7.8,"i":0.03},{"p":"d","z":21,"t":5.8,"i":0.03},{"p":"d","z":17,"t":6.3,"i":0.03},{"p":"d","z":14,"t":6.8,"i":0.03},{"p":"d","z":11,"t":9,"i":0.03},{"p":"d","z":8,"t":11.7,"i":0.03},{"p":"d","z":3,"t":13.7,"i":0.03},
{"p":"d","z":3,"t":-8.7,"i":0.06},{"p":"d","z":8,"t":-7.3,"i":0.06},{"p":"d","z":11,"t":-5.4,"i":0.06},{"p":"d","z":14,"t":-3.8,"i":0.06},{"p":"d","z":17,"t":-3.2,"i":0.06},{"p":"d","z":21,"t":-2.9,"i":0.06},{"p":"d","z":27,"t":-4.7,"i":0.06},{"p":"d","z":35,"t":-5.6,"i":0.06},{"p":"d","z":50,"t":-6,"i":0.06},{"p":"d","z":70,"t":-6,"i":0.06},{"p":"d","z":95,"t":0.1,"i":0.06},{"p":"d","z":70,"t":6.8,"i":0.06},{"p":"d","z":50,"t":7.4,"i":0.06},{"p":"d","z":35,"t":7.4,"i":0.06},{"p":"d","z":27,"t":6.7,"i":0.06},{"p":"d","z":21,"t":5.1,"i":0.06},{"p":"d","z":17,"t":5.6,"i":0.06},{"p":"d","z":14,"t":6.2,"i":0.06},{"p":"d","z":11,"t":8,"i":0.06},{"p":"d","z":8,"t":10.1,"i":0.06},{"p":"d","z":3,"t":11.7,"i":0.06},
{"p":"d","z":3,"t":-6.9,"i":0.1},{"p":"d","z":8,"t":-5.9,"i":0.1},{"p":"d","z":11,"t":-4.6,"i":0.1},{"p":"d","z":14,"t":-2.6,"i":0.1},{"p":"d","z":17,"t":-3,"i":0.1},{"p":"d","z":20,"t":-3.2,"i":0.1},{"p":"d","z":23,"t":-2.6,"i":0.1},{"p":"d","z":27,"t":-3.7,"i":0.1},{"p":"d","z":35,"t":-4.3,"i":0.1},{"p":"d","z":50,"t":-3.8,"i":0.1},{"p":"d","z":70,"t":0.4,"i":0.1},{"p":"d","z":50,"t":5.2,"i":0.1},{"p":"d","z":35,"t":6.1,"i":0.1},{"p":"d","z":27,"t":5.7,"i":0.1},{"p":"d","z":21,"t":4.4,"i":0.1},{"p":"d","z":17,"t":5.1,"i":0.1},{"p":"d","z":14,"t":5.8,"i":0.1},{"p":"d","z":11,"t":7.2,"i":0.1},{"p":"d","z":8,"t":8.7,"i":0.1},{"p":"d","z":3,"t":9.9,"i":0.1},
{"p":"d","z":3,"t":-5.1,"i":0.15},{"p":"d","z":8,"t":-4.7,"i":0.15},{"p":"d","z":11,"t":-3.8,"i":0.15},{"p":"d","z":14,"t":-2.4,"i":0.15},{"p":"d","z":17,"t":-2.7,"i":0.15},{"p":"d","z":20,"t":-3,"i":0.15},{"p":"d","z":23,"t":-2,"i":0.15},{"p":"d","z":27,"t":-2.7,"i":0.15},{"p":"d","z":35,"t":-2.9,"i":0.15},{"p":"d","z":50,"t":0.7,"i":0.15},{"p":"d","z":35,"t":4.7,"i":0.15},{"p":"d","z":27,"t":4.7,"i":0.15},{"p":"d","z":21,"t":3.8,"i":0.15},{"p":"d","z":17,"t":4.6,"i":0.15},{"p":"d","z":14,"t":5.3,"i":0.15},{"p":"d","z":11,"t":6.4,"i":0.15},{"p":"d","z":8,"t":7.5,"i":0.15},{"p":"d","z":3,"t":8.1,"i":0.15},
{"p":"d","z":3,"t":-3.6,"i":0.2},{"p":"d","z":8,"t":-3.6,"i":0.2},{"p":"d","z":11,"t":-3.2,"i":0.2},{"p":"d","z":14,"t":-2,"i":0.2},{"p":"d","z":17,"t":-2.5,"i":0.2},{"p":"d","z":20,"t":-2.9,"i":0.2},{"p":"d","z":23,"t":-1.5,"i":0.2},{"p":"d","z":27,"t":-1.9,"i":0.2},{"p":"d","z":35,"t":-1.4,"i":0.2},{"p":"d","z":42,"t":0.8,"i":0.2},{"p":"d","z":35,"t":3.2,"i":0.2},{"p":"d","z":27,"t":3.9,"i":0.2},{"p":"d","z":21,"t":3.3,"i":0.2},{"p":"d","z":17,"t":4.2,"i":0.2},{"p":"d","z":14,"t":5,"i":0.2},{"p":"d","z":11,"t":5.8,"i":0.2},{"p":"d","z":8,"t":6.4,"i":0.2},{"p":"d","z":3,"t":6.6,"i":0.2},
{"p":"d","z":3,"t":-1.9,"i":0.25},{"p":"d","z":8,"t":-2.5,"i":0.25},{"p":"d","z":11,"t":-2.7,"i":0.25},{"p":"d","z":14,"t":-1.7,"i":0.25},{"p":"d","z":17,"t":-2.2,"i":0.25},{"p":"d","z":20,"t":-2.7,"i":0.25},{"p":"d","z":23,"t":-0.9,"i":0.25},{"p":"d","z":27,"t":-0.9,"i":0.25},{"p":"d","z":33,"t":0.9,"i":0.25},{"p":"d","z":27,"t":2.9,"i":0.25},{"p":"d","z":21,"t":2.8,"i":0.25},{"p":"d","z":17,"t":3.9,"i":0.25},{"p":"d","z":14,"t":4.7,"i":0.25},{"p":"d","z":11,"t":5.3,"i":0.25},{"p":"d","z":8,"t":5.3,"i":0.25},{"p":"d","z":3,"t":4.9,"i":0.25},
{"p":"d","z":5,"t":1.5,"i":0.3},{"p":"d","z":8,"t":-1.3,"i":0.3},{"p":"d","z":11,"t":-2,"i":0.3},{"p":"d","z":14,"t":-1.4,"i":0.3},{"p":"d","z":17,"t":-1.9,"i":0.3},{"p":"d","z":20,"t":-2.5,"i":0.3},{"p":"d","z":23,"t":-0.2,"i":0.3},{"p":"d","z":26,"t":1,"i":0.3},{"p":"d","z":21,"t":2.2,"i":0.3},{"p":"d","z":17,"t":3.5,"i":0.3},{"p":"d","z":14,"t":4.5,"i":0.3},{"p":"d","z":11,"t":4.8,"i":0.3},{"p":"d","z":8,"t":4.1,"i":0.3},
{"p":"d","z":7,"t":1.4,"i":0.35},{"p":"d","z":8,"t":0.4,"i":0.35},{"p":"d","z":11,"t":-1.1,"i":0.35},{"p":"d","z":14,"t":-1,"i":0.35},{"p":"d","z":17,"t":-1.6,"i":0.35},{"p":"d","z":20,"t":-2.2,"i":0.35},{"p":"d","z":22,"t":0.5,"i":0.35},{"p":"d","z":17,"t":2.9,"i":0.35},{"p":"d","z":14,"t":3.9,"i":0.35},{"p":"d","z":11,"t":3.7,"i":0.35},{"p":"d","z":8,"t":2.4,"i":0.35},
{"p":"d","z":9.5,"t":1.3,"i":0.4},{"p":"d","z":11,"t":-0.4,"i":0.4},{"p":"d","z":14,"t":-0.7,"i":0.4},{"p":"d","z":17,"t":-1.3,"i":0.4},{"p":"d","z":19.5,"t":-1.9,"i":0.4},{"p":"d","z":21,"t":0.5,"i":0.4},{"p":"d","z":17,"t":2.5,"i":0.4},{"p":"d","z":14,"t":3.5,"i":0.4},{"p":"d","z":11,"t":3,"i":0.4},
{"p":"d","z":10,"t":1.3,"i":0.45},{"p":"d","z":11,"t":0.1,"i":0.45},{"p":"d","z":14,"t":-0.4,"i":0.45},{"p":"d","z":17,"t":-1,"i":0.45},{"p":"d","z":19,"t":-1.5,"i":0.45},{"p":"d","z":20,"t":0.6,"i":0.45},{"p":"d","z":17,"t":2.2,"i":0.45},{"p":"d","z":14,"t":3.2,"i":0.45},{"p":"d","z":11,"t":2.5,"i":0.45},
{"p":"d","z":10.5,"t":1.3,"i":0.5},{"p":"d","z":12,"t":0.1,"i":0.5},{"p":"d","z":14,"t":-0.2,"i":0.5},{"p":"d","z":16.5,"t":-0.7,"i":0.5},{"p":"d","z":18.5,"t":-1.1,"i":0.5},{"p":"d","z":19,"t":0.7,"i":0.5},{"p":"d","z":16,"t":2.2,"i":0.5},{"p":"d","z":14,"t":2.9,"i":0.5},{"p":"d","z":12,"t":2.5,"i":0.5},
{"p":"d","z":11,"t":1.3,"i":0.55},{"p":"d","z":14,"t":0,"i":0.55},{"p":"d","z":16.5,"t":-0.3,"i":0.55},{"p":"d","z":18,"t":-0.5,"i":0.55},{"p":"d","z":18,"t":1,"i":0.55},{"p":"d","z":14,"t":2.7,"i":0.55},
{"p":"d","z":11.5,"t":1.3,"i":0.6},{"p":"d","z":14,"t":0.15,"i":0.6},{"p":"d","z":16.5,"t":0,"i":0.6},{"p":"d","z":17,"t":1.1,"i":0.6},{"p":"d","z":14,"t":2.5,"i":0.6},
{"p":"d","z":12,"t":1.3,"i":0.65},{"p":"d","z":14,"t":0.05,"i":0.65},{"p":"d","z":16.3,"t":1.1,"i":0.65},{"p":"d","z":14,"t":2.35,"i":0.65},
{"p":"d","z":12.2,"t":1.2,"i":0.7},{"p":"d","z":14,"t":0.15,"i":0.7},{"p":"d","z":16,"t":1.2,"i":0.7},{"p":"d","z":14,"t":2.25,"i":0.7},
{"p":"d","z":12.5,"t":1.2,"i":0.75},{"p":"d","z":14,"t":0.3,"i":0.75},{"p":"d","z":15.7,"t":1.2,"i":0.75},{"p":"d","z":14,"t":2.1,"i":0.75},
{"p":"d","z":12.7,"t":1.2,"i":0.8},{"p":"d","z":14,"t":0.4,"i":0.8},{"p":"d","z":15.4,"t":1.2,"i":0.8},{"p":"d","z":14,"t":2,"i":0.8},
{"p":"d","z":13,"t":1.2,"i":0.85},{"p":"d","z":14,"t":0.55,"i":0.85},{"p":"d","z":15.1,"t":1.2,"i":0.85},{"p":"d","z":14,"t":1.85,"i":0.85},
{"p":"d","z":13.2,"t":1.2,"i":0.9},{"p":"d","z":14,"t":0.7,"i":0.9},{"p":"d","z":14.8,"t":1.2,"i":0.9},{"p":"d","z":14,"t":1.7,"i":0.9},
{"p":"d","z":13.5,"t":1.2,"i":0.95},{"p":"d","z":14,"t":0.85,"i":0.95},{"p":"d","z":14.5,"t":1.2,"i":0.95},{"p":"d","z":14,"t":1.55,"i":0.95},
{"p":"a","k":"s","c":1,"z":3,"t":-3.4,"i":0.2},{"p":"a","k":"s","c":1,"z":20,"t":-3.6,"i":0.2},{"p":"a","k":"s","c":1,"z":35,"t":-3.2,"i":0.25},{"p":"a","k":"s","c":1,"z":42,"t":-0.5,"i":0.6},{"p":"a","k":"s","c":1,"z":30,"t":0.4,"i":0.85},{"p":"a","k":"s","c":1,"z":12,"t":0.6,"i":0.95},{"p":"a","k":"s","c":1,"z":3,"t":1.2,"i":0.95},
{"p":"a","k":"s","c":2,"z":3,"t":-2.6,"i":0.3},{"p":"a","k":"s","c":2,"z":16,"t":-2.9,"i":0.3},{"p":"a","k":"s","c":2,"z":30,"t":-2.4,"i":0.35},{"p":"a","k":"s","c":2,"z":34,"t":-0.3,"i":0.68},{"p":"a","k":"s","c":2,"z":22,"t":0.4,"i":0.9},{"p":"a","k":"s","c":2,"z":3,"t":1.2,"i":0.95},
{"p":"a","k":"s","c":3,"z":3,"t":-1.8,"i":0.45},{"p":"a","k":"s","c":3,"z":12,"t":-2,"i":0.45},{"p":"a","k":"s","c":3,"z":24,"t":-1.4,"i":0.5},{"p":"a","k":"s","c":3,"z":26,"t":-0.2,"i":0.72},{"p":"a","k":"s","c":3,"z":14,"t":0.5,"i":0.92},{"p":"a","k":"s","c":3,"z":3,"t":1.3,"i":0.96},
{"p":"a","k":"s","c":4,"z":3,"t":-1.1,"i":0.58},{"p":"a","k":"s","c":4,"z":10,"t":-1.2,"i":0.58},{"p":"a","k":"s","c":4,"z":18,"t":-0.5,"i":0.68},{"p":"a","k":"s","c":4,"z":12,"t":0.4,"i":0.88},{"p":"a","k":"s","c":4,"z":3,"t":1.4,"i":0.97},
{"p":"a","k":"s","c":5,"z":3,"t":-0.6,"i":0.68},{"p":"a","k":"s","c":5,"z":8,"t":-0.5,"i":0.7},{"p":"a","k":"s","c":5,"z":11,"t":0.2,"i":0.82},{"p":"a","k":"s","c":5,"z":3,"t":1.5,"i":0.97},
{"p":"b","k":"s","c":1,"z":3,"t":-4,"i":0.3},{"p":"b","k":"s","c":1,"z":19,"t":-4.5,"i":0.2},{"p":"b","k":"s","c":1,"z":33,"t":-3.7,"i":0.12},{"p":"b","k":"s","c":1,"z":48,"t":-3,"i":0.1},{"p":"b","k":"s","c":1,"z":55,"t":-1.5,"i":0.25},{"p":"b","k":"s","c":1,"z":46,"t":-0.2,"i":0.55},{"p":"b","k":"s","c":1,"z":36,"t":0.1,"i":0.8},{"p":"b","k":"s","c":1,"z":25,"t":0.3,"i":0.9},{"p":"b","k":"s","c":1,"z":8,"t":1.5,"i":0.6},
{"p":"b","k":"s","c":2,"z":13,"t":-2.8,"i":0.35},{"p":"b","k":"s","c":2,"z":28,"t":-3.3,"i":0.2},{"p":"b","k":"s","c":2,"z":43,"t":-3.1,"i":0.12},{"p":"b","k":"s","c":2,"z":51,"t":-1.8,"i":0.2},{"p":"b","k":"s","c":2,"z":45,"t":-0.4,"i":0.5},{"p":"b","k":"s","c":2,"z":36,"t":-0.3,"i":0.7},{"p":"b","k":"s","c":2,"z":22,"t":0,"i":0.78},
{"p":"b","k":"s","c":3,"z":24,"t":-2.2,"i":0.4},{"p":"b","k":"s","c":3,"z":36,"t":-3.2,"i":0.17},{"p":"b","k":"s","c":3,"z":47,"t":-2.7,"i":0.12},{"p":"b","k":"s","c":3,"z":48,"t":-1.4,"i":0.25},{"p":"b","k":"s","c":3,"z":41,"t":-0.7,"i":0.5},{"p":"b","k":"s","c":3,"z":31,"t":-0.8,"i":0.65},
{"p":"b","k":"s","c":4,"z":33,"t":-2.7,"i":0.25},{"p":"b","k":"s","c":4,"z":41,"t":-3.1,"i":0.12},{"p":"b","k":"s","c":4,"z":47,"t":-2.1,"i":0.15},{"p":"b","k":"s","c":4,"z":43,"t":-1.2,"i":0.35},{"p":"b","k":"s","c":4,"z":36,"t":-1.3,"i":0.45},
{"p":"b","k":"s","c":5,"z":38,"t":-2.9,"i":0.15},{"p":"b","k":"s","c":5,"z":43,"t":-2.9,"i":0.12},{"p":"b","k":"s","c":5,"z":45,"t":-2,"i":0.2},{"p":"b","k":"s","c":5,"z":41,"t":-1.8,"i":0.25},
{"p":"b","k":"s","c":6,"z":3,"t":0,"i":0.5},{"p":"b","k":"s","c":6,"z":3,"t":3,"i":0.58},{"p":"b","k":"s","c":6,"z":12,"t":2,"i":0.7},{"p":"b","k":"s","c":6,"z":22,"t":1,"i":0.85},{"p":"b","k":"s","c":6,"z":20,"t":-0.5,"i":0.6},{"p":"b","k":"s","c":6,"z":8,"t":-1,"i":0.45},
{"p":"b","k":"s","c":7,"z":24,"t":0.5,"i":0.8},{"p":"b","k":"s","c":7,"z":32,"t":0.8,"i":0.8},{"p":"b","k":"s","c":7,"z":30,"t":1.4,"i":0.97},{"p":"b","k":"s","c":7,"z":27,"t":1.5,"i":1},{"p":"b","k":"s","c":7,"z":24,"t":1.3,"i":0.9},
{"p":"c","k":"s","c":1,"z":12,"t":-3,"i":0.2},{"p":"c","k":"s","c":1,"z":22,"t":-3.2,"i":0.1},{"p":"c","k":"s","c":1,"z":32,"t":-3.2,"i":0.08},{"p":"c","k":"s","c":1,"z":34,"t":-1,"i":0.2},{"p":"c","k":"s","c":1,"z":26,"t":0.2,"i":0.55},{"p":"c","k":"s","c":1,"z":20,"t":0.8,"i":0.75},{"p":"c","k":"s","c":1,"z":14,"t":0.5,"i":0.35},
{"p":"c","k":"s","c":2,"z":16,"t":-2.4,"i":0.3},{"p":"c","k":"s","c":2,"z":24,"t":-3,"i":0.1},{"p":"c","k":"s","c":2,"z":30,"t":-3,"i":0.08},{"p":"c","k":"s","c":2,"z":30,"t":-1,"i":0.25},{"p":"c","k":"s","c":2,"z":25,"t":0,"i":0.5},{"p":"c","k":"s","c":2,"z":20,"t":0.3,"i":0.65},
{"p":"c","k":"s","c":3,"z":20,"t":-1.8,"i":0.4},{"p":"c","k":"s","c":3,"z":25,"t":-2.8,"i":0.1},{"p":"c","k":"s","c":3,"z":29,"t":-2.6,"i":0.1},{"p":"c","k":"s","c":3,"z":28,"t":-1,"i":0.28},{"p":"c","k":"s","c":3,"z":24,"t":-0.3,"i":0.5},
{"p":"c","k":"s","c":4,"z":22,"t":-1.6,"i":0.4},{"p":"c","k":"s","c":4,"z":26,"t":-2.6,"i":0.12},{"p":"c","k":"s","c":4,"z":28,"t":-2,"i":0.14},{"p":"c","k":"s","c":4,"z":26,"t":-0.8,"i":0.35},
{"p":"c","k":"s","c":5,"z":24,"t":-1.6,"i":0.35},{"p":"c","k":"s","c":5,"z":26.5,"t":-2.3,"i":0.15},{"p":"c","k":"s","c":5,"z":27,"t":-1.6,"i":0.2},{"p":"c","k":"s","c":5,"z":25.5,"t":-1,"i":0.33},
{"p":"c","k":"s","c":6,"z":16,"t":0,"i":0.55},{"p":"c","k":"s","c":6,"z":22,"t":0,"i":0.55},{"p":"c","k":"s","c":6,"z":21,"t":0.6,"i":0.9},{"p":"c","k":"s","c":6,"z":19,"t":0.8,"i":0.98},{"p":"c","k":"s","c":6,"z":17,"t":0.6,"i":0.9},
{"p":"c","k":"s","c":7,"z":17,"t":0,"i":0.6},{"p":"c","k":"s","c":7,"z":21,"t":0,"i":0.6},{"p":"c","k":"s","c":7,"z":20,"t":0.5,"i":0.8},{"p":"c","k":"s","c":7,"z":18,"t":0.5,"i":0.8},
{"p":"d","k":"s","c":1,"z":6,"t":-3,"i":0.2},{"p":"d","k":"s","c":1,"z":16,"t":-3.5,"i":0.1},{"p":"d","k":"s","c":1,"z":23,"t":-3.6,"i":0.06},{"p":"d","k":"s","c":1,"z":25,"t":-1.5,"i":0.15},{"p":"d","k":"s","c":1,"z":18,"t":0,"i":0.5},{"p":"d","k":"s","c":1,"z":13,"t":0.7,"i":0.75},{"p":"d","k":"s","c":1,"z":8,"t":0.5,"i":0.35},
{"p":"d","k":"s","c":2,"z":10,"t":-2.2,"i":0.25},{"p":"d","k":"s","c":2,"z":18,"t":-3.3,"i":0.08},{"p":"d","k":"s","c":2,"z":22,"t":-3.3,"i":0.08},{"p":"d","k":"s","c":2,"z":22,"t":-1,"i":0.2},{"p":"d","k":"s","c":2,"z":17,"t":-0.2,"i":0.45},{"p":"d","k":"s","c":2,"z":13,"t":0.3,"i":0.65},
{"p":"d","k":"s","c":3,"z":14,"t":-1.8,"i":0.3},{"p":"d","k":"s","c":3,"z":19,"t":-3.1,"i":0.08},{"p":"d","k":"s","c":3,"z":21.5,"t":-3,"i":0.1},{"p":"d","k":"s","c":3,"z":20,"t":-1.2,"i":0.28},{"p":"d","k":"s","c":3,"z":16.5,"t":-0.6,"i":0.45},
{"p":"d","k":"s","c":4,"z":16,"t":-1.6,"i":0.35},{"p":"d","k":"s","c":4,"z":19.5,"t":-2.9,"i":0.1},{"p":"d","k":"s","c":4,"z":21,"t":-2.6,"i":0.14},{"p":"d","k":"s","c":4,"z":19,"t":-1.2,"i":0.33},
{"p":"d","k":"s","c":5,"z":18,"t":-1.6,"i":0.35},{"p":"d","k":"s","c":5,"z":20,"t":-2.6,"i":0.12},{"p":"d","k":"s","c":5,"z":20.5,"t":-2.2,"i":0.18},{"p":"d","k":"s","c":5,"z":19,"t":-1.3,"i":0.33},
{"p":"d","k":"s","c":6,"z":12.5,"t":0.3,"i":0.55},{"p":"d","k":"s","c":6,"z":16,"t":0.3,"i":0.55},{"p":"d","k":"s","c":6,"z":15,"t":0.8,"i":0.9},{"p":"d","k":"s","c":6,"z":14,"t":1,"i":0.98},{"p":"d","k":"s","c":6,"z":13,"t":0.8,"i":0.9},
{"p":"d","k":"s","c":7,"z":13,"t":0.4,"i":0.6},{"p":"d","k":"s","c":7,"z":15.5,"t":0.4,"i":0.6},{"p":"d","k":"s","c":7,"z":14.5,"t":0.8,"i":0.8},{"p":"d","k":"s","c":7,"z":13.5,"t":0.8,"i":0.8},
{"p":"abcd","k":"w","c":1,"z":0,"t":-20,"i":1},{"p":"abcd","k":"w","c":1,"z":100,"t":-20,"i":1},{"p":"abcd","k":"w","c":1,"z":100,"t":20,"i":1},
{"p":"abcd","k":"w","c":2,"z":100,"t":-20,"i":1},{"p":"abcd","k":"w","c":2,"z":100,"t":-20,"i":0},
{"p":"abcd","k":"b","c":1,"z":0,"t":-20,"i":0},{"p":"abcd","k":"b","c":1,"z":0,"t":-20,"i":1},{"p":"abcd","k":"b","c":1,"z":0,"t":20,"i":1},{"p":"abcd","k":"b","c":1,"z":100,"t":20,"i":1},{"p":"abcd","k":"b","c":1,"z":100,"t":20,"i":0},{"p":"abcd","k":"b","c":1,"z":100,"t":-20,"i":0},{"p":"abcd","k":"b","c":1,"z":0,"t":-20,"i":0},
{"p":"abcd","k":"b","c":2,"z":2.5,"t":-20},{"p":"abcd","k":"b","c":2,"z":2.5,"t":-18.5},
{"p":"abcd","k":"b","c":3,"z":50,"t":-20},{"p":"abcd","k":"b","c":3,"z":50,"t":-18},
{"p":"abcd","k":"b","c":4,"z":97.5,"t":-20},{"p":"abcd","k":"b","c":4,"z":97.5,"t":-18.5},
{"p":"abcd","k":"b","c":5,"z":100,"t":-18.5},{"p":"abcd","k":"b","c":5,"z":97.5,"t":-18.5},
{"p":"abcd","k":"b","c":6,"z":100,"t":0},{"p":"abcd","k":"b","c":6,"z":97,"t":0},
{"p":"abcd","k":"b","c":7,"z":100,"t":19},{"p":"abcd","k":"b","c":7,"z":97.5,"t":19},
{"p":"abcd","k":"b","c":8,"z":0,"t":-20,"i":0.5},{"p":"abcd","k":"b","c":8,"z":4,"t":-20,"i":0.5},
{"p":"abcd","k":"b","c":9,"z":0,"t":-20,"i":1},{"p":"abcd","k":"b","c":9,"z":4,"t":-20,"i":1},
{"p":"abcd","k":"n","z":5.7,"t":-24.2,"s":"0"},{"p":"abcd","k":"n","z":49,"t":-24.4,"s":"50"},{"p":"abcd","k":"n","z":95.3,"t":-24.9,"s":"100"},
{"p":"abcd","k":"n","z":110.8,"t":-18.9,"s":"−20"},{"p":"abcd","k":"n","z":106.6,"t":0.65,"s":"0"},{"p":"abcd","k":"n","z":108.2,"t":19.5,"s":"20"},
{"p":"abcd","k":"n","z":-5.8,"t":-22.5,"i":1,"s":"1.0"},{"p":"abcd","k":"n","z":-5.1,"t":-22.9,"i":0.5,"s":"0.5"},
{"p":"abcd","k":"ii","z":2.07,"t":-35.1,"s":"I"},{"p":"abcd","k":"ir","z":-0.89,"t":-33.3,"s":"("},{"p":"abcd","k":"ii","z":-3.5,"t":-31.8,"s":"x"},{"p":"abcd","k":"ir","z":-7.5,"t":-29.4,"s":","},{"p":"abcd","k":"ii","z":-11.6,"t":-27,"s":"y"},{"p":"abcd","k":"ir","z":-15.5,"t":-24.7,"s":","},{"p":"abcd","k":"ii","z":-20.3,"t":-21.8,"s":"t"},{"p":"abcd","k":"ir","z":-22.8,"t":-20.4,"s":","},{"p":"abcd","k":"ii","z":-26.9,"t":-17.9,"s":"z"},{"p":"abcd","k":"ir","z":-31,"t":-15.5,"s":")/(a.u.)"},
{"p":"abcd","k":"zi","z":44.9,"t":-32.9,"s":"z"},{"p":"abcd","k":"zr","z":48.6,"t":-33,"s":"/m"},
{"p":"abcd","k":"ti","z":124.7,"t":-5,"s":"t"},{"p":"abcd","k":"tr","z":124.7,"t":-3.7,"s":"/ps"},
{"p":"a","k":"ca","z":91.6,"t":-35.7,"l":"(a)","r":"= 0 ps"},{"p":"b","k":"ca","z":86.7,"t":-36.6,"l":"(b)","r":"= −0.4 ps"},{"p":"c","k":"ca","z":87.3,"t":-36.6,"l":"(c)","r":"= −0.8 ps"},{"p":"d","k":"ca","z":86.3,"t":-35.7,"l":"(d)","r":"= −1.2 ps"},
{"p":"a","k":"su","z":115.6,"t":-27.2,"s":"−2"},{"p":"b","k":"su","z":120.3,"t":-25.3,"s":"−2"},{"p":"c","k":"su","z":121.3,"t":-25.4,"s":"−2"},{"p":"d","k":"su","z":119.7,"t":-24.5,"s":"−2"}
]},
"transform":[
{"calculate":"split(datum.p,'')","as":"ps"},{"flatten":["ps"],"as":["q"]},
{"calculate":"box[datum.q]","as":"b"},{"calculate":"datum.z/100","as":"u"},{"calculate":"(datum.t+20)/40","as":"v"},{"calculate":"datum.i||0","as":"h"},
{"calculate":"(1-datum.u)*(1-datum.v)*(datum.b[0]+datum.h*(datum.b[8]-datum.b[0]))+datum.u*(1-datum.v)*(datum.b[2]+datum.h*(datum.b[10]-datum.b[2]))+datum.u*datum.v*(datum.b[4]+datum.h*(datum.b[12]-datum.b[4]))+(1-datum.u)*datum.v*(datum.b[6]+datum.h*(datum.b[14]-datum.b[6]))","as":"px"},
{"calculate":"(1-datum.u)*(1-datum.v)*(datum.b[1]+datum.h*(datum.b[9]-datum.b[1]))+datum.u*(1-datum.v)*(datum.b[3]+datum.h*(datum.b[11]-datum.b[3]))+datum.u*datum.v*(datum.b[5]+datum.h*(datum.b[13]-datum.b[5]))+(1-datum.u)*datum.v*(datum.b[7]+datum.h*(datum.b[15]-datum.b[7]))","as":"py"}
],
"encoding":{"x":{"field":"px","type":"quantitative","scale":{"domain":[0,2519],"nice":false,"zero":false},"axis":null},"y":{"field":"py","type":"quantitative","scale":{"domain":[1291,0],"nice":false,"zero":false},"axis":null}},
"layer":[
{"transform":[{"filter":"datum.k=='g'"}],"mark":{"type":"line","stroke":"#c9c9c9","strokeWidth":2},"encoding":{"detail":[{"field":"q"},{"field":"c"}],"order":{"value":null}}},
{"transform":[{"filter":"datum.k=='f'"}],"mark":{"type":"line","interpolate":"linear-closed","fill":"#7b348f","stroke":"#7b348f","strokeWidth":1},"encoding":{"detail":{"field":"q"},"order":{"value":null}}},
{"transform":[{"filter":"!datum.k"}],"mark":{"type":"line","interpolate":"cardinal-closed","tension":0.5,"strokeOpacity":0.5},"encoding":{"detail":{"field":"q"},"order":{"value":null},
"strokeWidth":{"field":"i","type":"quantitative","legend":null,"scale":{"domain":[0.03,0.1,0.3],"range":[14,9,5]}},
"fill":{"field":"i","type":"quantitative","legend":null,"scale":{"domain":[0,0.06,0.12,0.2,0.3,0.4,0.5,0.6,0.7,0.78,0.85,0.92,1],"range":["#7b348f","#66388f","#4a4398","#3c5aa6","#4682be","#5cb0d6","#77c2b4","#a3cf8e","#d0d870","#e8dc5c","#ec9f4c","#e0603a","#cf2a2a"]}},
"stroke":{"field":"i","type":"quantitative","legend":null,"scale":{"domain":[0,0.06,0.12,0.2,0.3,0.4,0.5,0.6,0.7,0.78,0.85,0.92,1],"range":["#7b348f","#66388f","#4a4398","#3c5aa6","#4682be","#5cb0d6","#77c2b4","#a3cf8e","#d0d870","#e8dc5c","#ec9f4c","#e0603a","#cf2a2a"]}}}},
{"transform":[{"filter":"datum.k=='s'"}],"mark":{"type":"line","interpolate":"cardinal-closed","tension":0.3,"fill":"#000000","fillOpacity":0.1,"strokeWidth":0},"encoding":{"detail":[{"field":"q"},{"field":"c"}],"order":{"value":null}}},
{"transform":[{"filter":"datum.k=='w'"}],"mark":{"type":"line","stroke":"#b9b4d0","strokeWidth":1.5,"opacity":0.2},"encoding":{"detail":[{"field":"q"},{"field":"c"}],"order":{"value":null}}},
{"transform":[{"filter":"datum.k=='b'"}],"mark":{"type":"line","stroke":"#1a1a1a","strokeWidth":2.6},"encoding":{"detail":[{"field":"q"},{"field":"c"}],"order":{"value":null}}},
{"transform":[{"filter":"datum.k=='n'"}],"mark":{"type":"text","font":"Liberation Serif","fontSize":40,"color":"#231f20","align":"center","baseline":"middle"},"encoding":{"text":{"field":"s"}}},
{"transform":[{"filter":"datum.k=='ir'"}],"mark":{"type":"text","font":"Liberation Serif","fontSize":44,"color":"#231f20","align":"left","baseline":"alphabetic","angle":270},"encoding":{"text":{"field":"s"}}},
{"transform":[{"filter":"datum.k=='ii'"}],"mark":{"type":"text","font":"Liberation Serif","fontStyle":"italic","fontSize":44,"color":"#231f20","align":"left","baseline":"alphabetic","angle":270},"encoding":{"text":{"field":"s"}}},
{"transform":[{"filter":"datum.k=='zi'"}],"mark":{"type":"text","font":"Liberation Serif","fontStyle":"italic","fontSize":44,"color":"#231f20","align":"left","baseline":"alphabetic","angle":30},"encoding":{"text":{"field":"s"}}},
{"transform":[{"filter":"datum.k=='zr'"}],"mark":{"type":"text","font":"Liberation Serif","fontSize":44,"color":"#231f20","align":"left","baseline":"alphabetic","angle":30},"encoding":{"text":{"field":"s"}}},
{"transform":[{"filter":"datum.k=='ti'"}],"mark":{"type":"text","font":"Liberation Serif","fontStyle":"italic","fontSize":44,"color":"#231f20","align":"left","baseline":"alphabetic","angle":312},"encoding":{"text":{"field":"s"}}},
{"transform":[{"filter":"datum.k=='tr'"}],"mark":{"type":"text","font":"Liberation Serif","fontSize":44,"color":"#231f20","align":"left","baseline":"alphabetic","angle":312},"encoding":{"text":{"field":"s"}}},
{"transform":[{"filter":"datum.k=='ca'"}],"mark":{"type":"text","font":"Liberation Serif","fontSize":44,"color":"#231f20","align":"right","baseline":"alphabetic","dx":-12},"encoding":{"text":{"field":"l"}}},
{"transform":[{"filter":"datum.k=='ca'"}],"mark":{"type":"text","font":"Liberation Serif","fontStyle":"italic","fontSize":44,"color":"#231f20","align":"left","baseline":"alphabetic","text":"s"},"encoding":{}},
{"transform":[{"filter":"datum.k=='ca'"}],"mark":{"type":"text","font":"Liberation Serif","fontSize":44,"color":"#231f20","align":"left","baseline":"alphabetic","dx":28},"encoding":{"text":{"field":"r"}}},
{"transform":[{"filter":"datum.k=='su'"}],"mark":{"type":"text","font":"Liberation Serif","fontSize":26,"color":"#231f20","align":"left","baseline":"alphabetic"},"encoding":{"text":{"field":"s"}}}
]}
